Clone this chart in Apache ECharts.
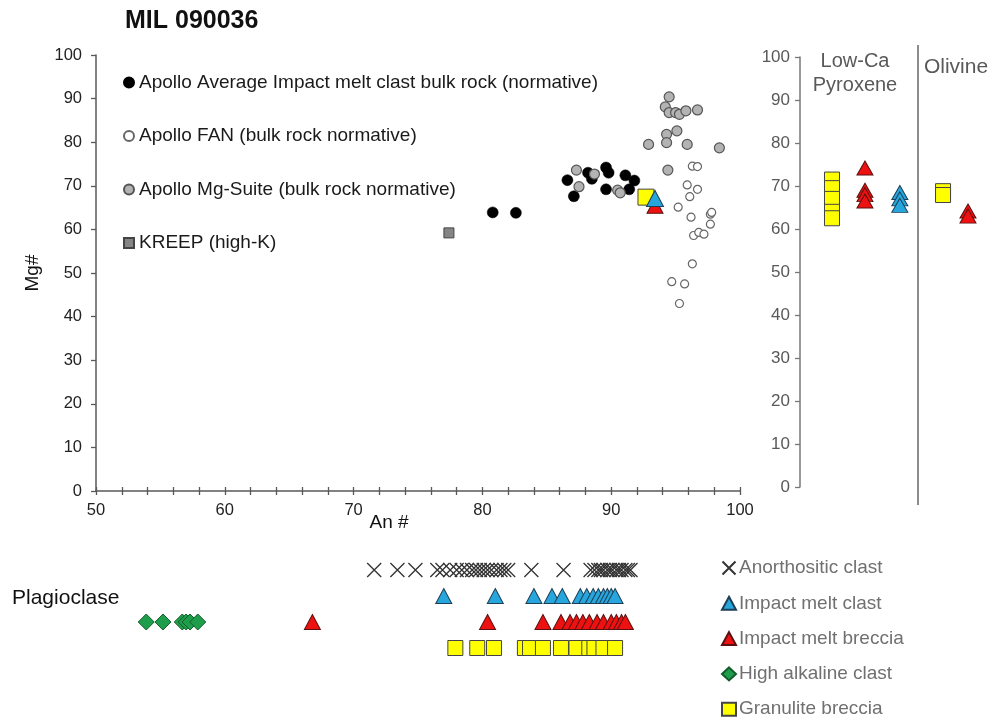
<!DOCTYPE html>
<html>
<head>
<meta charset="utf-8">
<title>MIL 090036</title>
<script src="https://cdn.jsdelivr.net/npm/echarts@6/dist/echarts.min.js"></script>
<style>
  html, body { margin: 0; padding: 0; background: #fff; }
  #chart { width: 992px; height: 719px; }
</style>
</head>
<body>
<div id="chart"></div>
<script>
// ---- Bulk-rock reference compositions: [An#, Mg#] ----
const apolloImpactMelt = [
  [80.8, 63.9], [82.6, 63.8], [86.6, 71.3], [87.1, 67.6], [88.2, 73.0], [88.5, 71.6],
  [89.6, 74.2], [89.8, 73.0], [89.6, 69.2], [91.1, 72.4], [91.8, 71.2], [91.4, 69.2]
];
const apolloFAN = [
  [96.3, 74.5], [96.7, 74.4], [95.9, 70.2], [96.7, 69.2], [96.1, 67.5], [95.2, 65.1],
  [96.2, 62.8], [97.7, 63.5], [97.8, 63.9], [97.7, 61.2], [96.4, 58.6], [96.8, 59.3],
  [97.2, 58.9], [96.3, 52.1], [94.7, 48.0], [95.7, 47.5], [95.3, 43.0]
];
const apolloMgSuite = [
  [94.5, 90.4], [94.2, 88.1], [94.5, 86.8], [95.0, 86.8], [95.3, 86.4], [95.8, 87.2],
  [96.7, 87.4], [94.3, 81.8], [95.1, 82.6], [92.9, 79.5], [94.3, 79.9], [95.9, 79.5],
  [98.4, 78.7], [94.4, 73.6], [87.3, 73.6], [88.7, 72.7], [87.5, 69.8], [90.5, 69.0],
  [90.7, 68.4]
];
const kreepHighK = [[77.4, 59.2]];

// ---- MIL 090036 lithologies, bulk [An#, Mg#] ----
const granuliteBulk = [[92.7, 67.4]];
const meltBrecciaBulk = [[93.4, 65.4]];
const meltClastBulk = [[93.4, 67.1]];

// ---- Mafic minerals, Mg# ----
const pxGranulite = [71.5, 69.5, 67, 64, 62.5];
const pxMeltBreccia = [74.2, 69, 68, 66.5];
const pxMeltClast = [68.5, 67, 65.5];
const olGranulite = [68.8, 67.9];
const olMeltBreccia = [64.2, 63];

// ---- Plagioclase, An# ----
const plagAnorthositic = [
  71.6, 73.4, 74.8, 76.5, 76.9, 77.5, 78.0, 78.4, 78.8, 79.2, 79.5, 79.8, 80.1, 80.4,
  80.7, 81.1, 81.4, 81.7, 82.0, 83.8, 86.3, 88.4, 88.7, 89.0, 89.2, 89.4, 89.7, 89.9,
  90.1, 90.4, 90.6, 90.8, 91.1, 91.3, 91.5
];
const plagMeltClast = [77.0, 81.0, 84.0, 85.4, 86.2, 87.6, 88.1, 88.6, 89.0, 89.4, 89.7, 90.0, 90.3];
const plagMeltBreccia = [66.8, 80.4, 84.7, 86.1, 86.8, 87.3, 87.8, 88.3, 88.9, 89.4, 90.0, 90.4, 90.8, 91.1];
const plagHighAlkaline = [53.9, 55.2, 56.7, 57.0, 57.3, 57.9];
const plagGranulite = [77.9, 79.6, 80.9, 83.3, 83.7, 84.7, 86.1, 87.3, 88.3, 88.7, 89.4, 90.3];

const FONT = '"Liberation Sans", Arial, sans-serif';
const CROSS = 'path://M0,0L10,10M10,0L0,10';

const styles = {
  anorth:   { symbol: CROSS, itemStyle: { color: 'rgba(0,0,0,0)', borderColor: '#333', borderWidth: 1.3, opacity: 1 } },
  clast:    { symbol: 'triangle', itemStyle: { color: '#27a6de', borderColor: '#1d3f55', borderWidth: 1, opacity: 1 } },
  breccia:  { symbol: 'triangle', itemStyle: { color: '#ee1111', borderColor: '#5a1010', borderWidth: 1, opacity: 1 } },
  alkaline: { symbol: 'diamond', itemStyle: { color: '#1e9e4a', borderColor: '#135c2c', borderWidth: 1, opacity: 1 } },
  granul:   { symbol: 'rect', itemStyle: { color: '#ffff00', borderColor: '#444', borderWidth: 1, opacity: 1 } }
};

// each mineral column of the right panel sits at a fixed slot on its hidden x axis
const col = (vals, slot) => vals.map(v => [slot, v]);
// each plagioclase row sits on its own level of the strip's hidden y axis
const row = (vals, level) => vals.map(v => [v, level]);

const series = [
  // main An# vs Mg# panel
  { name: 'Apollo Average Impact melt clast bulk rock (normative)', type: 'scatter',
    xAxisIndex: 0, yAxisIndex: 0, data: apolloImpactMelt, symbol: 'circle', symbolSize: 11,
    itemStyle: { color: '#000', borderColor: '#000', borderWidth: 0.5, opacity: 1 } },
  { name: 'Apollo FAN (bulk rock normative)', type: 'scatter',
    xAxisIndex: 0, yAxisIndex: 0, data: apolloFAN, symbol: 'circle', symbolSize: 8,
    itemStyle: { color: '#fff', borderColor: '#666', borderWidth: 1.2, opacity: 1 } },
  { name: 'Apollo Mg-Suite (bulk rock normative)', type: 'scatter',
    xAxisIndex: 0, yAxisIndex: 0, data: apolloMgSuite, symbol: 'circle', symbolSize: 10,
    itemStyle: { color: '#b3b3b3', borderColor: '#555', borderWidth: 1.2, opacity: 1 } },
  { name: 'KREEP (high-K)', type: 'scatter',
    xAxisIndex: 0, yAxisIndex: 0, data: kreepHighK, symbol: 'rect', symbolSize: 10,
    itemStyle: { color: '#858585', borderColor: '#444', borderWidth: 1, opacity: 1 } },
  Object.assign({ name: 'Granulite breccia', type: 'scatter', xAxisIndex: 0, yAxisIndex: 0,
    data: granuliteBulk, symbolSize: 16 }, styles.granul),
  Object.assign({ name: 'Impact melt breccia', type: 'scatter', xAxisIndex: 0, yAxisIndex: 0,
    data: meltBrecciaBulk, symbolSize: [16, 15] }, styles.breccia),
  Object.assign({ name: 'Impact melt clast', type: 'scatter', xAxisIndex: 0, yAxisIndex: 0,
    data: meltClastBulk, symbolSize: [17, 16] }, styles.clast),

  // low-Ca pyroxene and olivine
  Object.assign({ name: 'Granulite breccia', type: 'scatter', xAxisIndex: 2, yAxisIndex: 1,
    data: col(pxGranulite, 1), symbolSize: 15 }, styles.granul),
  Object.assign({ name: 'Impact melt breccia', type: 'scatter', xAxisIndex: 2, yAxisIndex: 1,
    data: col(pxMeltBreccia, 2.03), symbolSize: [16, 14] }, styles.breccia),
  Object.assign({ name: 'Impact melt clast', type: 'scatter', xAxisIndex: 2, yAxisIndex: 1,
    data: col(pxMeltClast, 3.12), symbolSize: [16, 14] }, styles.clast),
  Object.assign({ name: 'Granulite breccia', type: 'scatter', xAxisIndex: 2, yAxisIndex: 1,
    data: col(olGranulite, 4.47), symbolSize: 15 }, styles.granul),
  Object.assign({ name: 'Impact melt breccia', type: 'scatter', xAxisIndex: 2, yAxisIndex: 1,
    data: col(olMeltBreccia, 5.25), symbolSize: [16, 14] }, styles.breccia),

  // plagioclase strip
  Object.assign({ name: 'Anorthositic clast', type: 'scatter', xAxisIndex: 3, yAxisIndex: 2,
    data: row(plagAnorthositic, 4), symbolSize: 14 }, styles.anorth),
  Object.assign({ name: 'Impact melt clast', type: 'scatter', xAxisIndex: 3, yAxisIndex: 2,
    data: row(plagMeltClast, 3), symbolSize: [16, 15] }, styles.clast),
  Object.assign({ name: 'Impact melt breccia', type: 'scatter', xAxisIndex: 3, yAxisIndex: 2,
    data: row(plagMeltBreccia, 2), symbolSize: [16, 15] }, styles.breccia),
  Object.assign({ name: 'High alkaline clast', type: 'scatter', xAxisIndex: 3, yAxisIndex: 2,
    data: row(plagHighAlkaline, 2), symbolSize: [16, 16] }, styles.alkaline),
  Object.assign({ name: 'Granulite breccia', type: 'scatter', xAxisIndex: 3, yAxisIndex: 2,
    data: row(plagGranulite, 1), symbolSize: 15 }, styles.granul)
];
series.forEach(s => { s.emphasis = { disabled: true }; s.silent = true; });

const axisGray = '#595959';

const option = {
  animation: false,
  backgroundColor: '#fff',
  textStyle: { fontFamily: FONT },
  grid: [
    { left: 96, top: 55, width: 644, height: 436 },
    { left: 800, top: 57, width: 192, height: 430 },
    { left: 96, top: 557, width: 644, height: 104 }
  ],
  xAxis: [
    { gridIndex: 0, type: 'value', position: 'bottom', min: 50, max: 100, interval: 2,
      axisLine: { show: true, lineStyle: { color: axisGray, width: 1.5 } },
      axisTick: { show: true, length: 4, lineStyle: { color: axisGray, width: 1.3 } },
      axisLabel: { fontSize: 16.5, color: '#222', margin: 11, fontFamily: FONT,
        formatter: v => (v % 10 === 0 ? String(v) : '') },
      splitLine: { show: false } },
    { gridIndex: 0, type: 'value', position: 'bottom', min: 50, max: 100, interval: 2,
      axisLine: { show: false },
      axisTick: { show: true, inside: true, length: 4, lineStyle: { color: axisGray, width: 1.3 } },
      axisLabel: { show: false }, splitLine: { show: false } },
    { gridIndex: 1, type: 'value', min: 0, max: 6, show: false },
    { gridIndex: 2, type: 'value', min: 50, max: 100, show: false }
  ],
  yAxis: [
    { gridIndex: 0, type: 'value', min: 0, max: 100, interval: 10,
      axisLine: { show: true, lineStyle: { color: axisGray, width: 1.5 } },
      axisTick: { show: true, length: 5, lineStyle: { color: axisGray, width: 1.3 } },
      axisLabel: { fontSize: 16.5, color: '#222', margin: 14, fontFamily: FONT },
      splitLine: { show: false } },
    { gridIndex: 1, type: 'value', min: 0, max: 100, interval: 10,
      axisLine: { show: true, lineStyle: { color: '#777', width: 1.5 } },
      axisTick: { show: true, length: 5, lineStyle: { color: '#777', width: 1.3 } },
      axisLabel: { fontSize: 17, color: '#595959', margin: 10, fontFamily: FONT },
      splitLine: { show: false } },
    { gridIndex: 2, type: 'value', min: 0.5, max: 4.5, show: false }
  ],
  legend: [
    { orient: 'vertical', left: 118, top: 68, itemGap: 34.5, itemWidth: 10, itemHeight: 10,
      selectedMode: false,
      textStyle: { fontSize: 19, color: '#1a1a1a', fontFamily: FONT, lineHeight: 19 },
      data: ['Apollo Average Impact melt clast bulk rock (normative)',
             'Apollo FAN (bulk rock normative)',
             'Apollo Mg-Suite (bulk rock normative)',
             'KREEP (high-K)'] },
    { orient: 'vertical', left: 716, top: 553, height: 200, itemGap: 15.3, itemWidth: 14, itemHeight: 13,
      selectedMode: false,
      textStyle: { fontSize: 19, color: '#707070', fontFamily: FONT, lineHeight: 20, padding: [0, 0, 0, -2] },
      data: ['Anorthositic clast', 'Impact melt clast', 'Impact melt breccia',
             'High alkaline clast', 'Granulite breccia'] }
  ],
  graphic: [
    { type: 'text', left: 125, top: 9,
      style: { text: 'MIL 090036', font: 'bold 25px ' + FONT, fill: '#111' } },
    { type: 'text', x: 33, y: 273, rotation: Math.PI / 2,
      style: { text: 'Mg#', font: '19px ' + FONT, fill: '#111', align: 'center', verticalAlign: 'middle' } },
    { type: 'text', x: 389, y: 523,
      style: { text: 'An #', font: '19px ' + FONT, fill: '#111', align: 'center', verticalAlign: 'middle' } },
    { type: 'text', x: 12, y: 598,
      style: { text: 'Plagioclase', font: '21px ' + FONT, fill: '#111', verticalAlign: 'middle' } },
    { type: 'text', x: 855, y: 61,
      style: { text: 'Low-Ca', font: '20px ' + FONT, fill: '#595959', align: 'center', verticalAlign: 'middle' } },
    { type: 'text', x: 855, y: 85,
      style: { text: 'Pyroxene', font: '20px ' + FONT, fill: '#595959', align: 'center', verticalAlign: 'middle' } },
    { type: 'text', x: 956, y: 67,
      style: { text: 'Olivine', font: '21px ' + FONT, fill: '#595959', align: 'center', verticalAlign: 'middle' } },
    { type: 'line', shape: { x1: 918, y1: 45, x2: 918, y2: 505 },
      style: { stroke: '#666', lineWidth: 1.5 } }
  ],
  series: series
};

const chart = echarts.init(document.getElementById('chart'), null, { renderer: 'canvas' });
chart.setOption(option);
</script>
</body>
</html>
